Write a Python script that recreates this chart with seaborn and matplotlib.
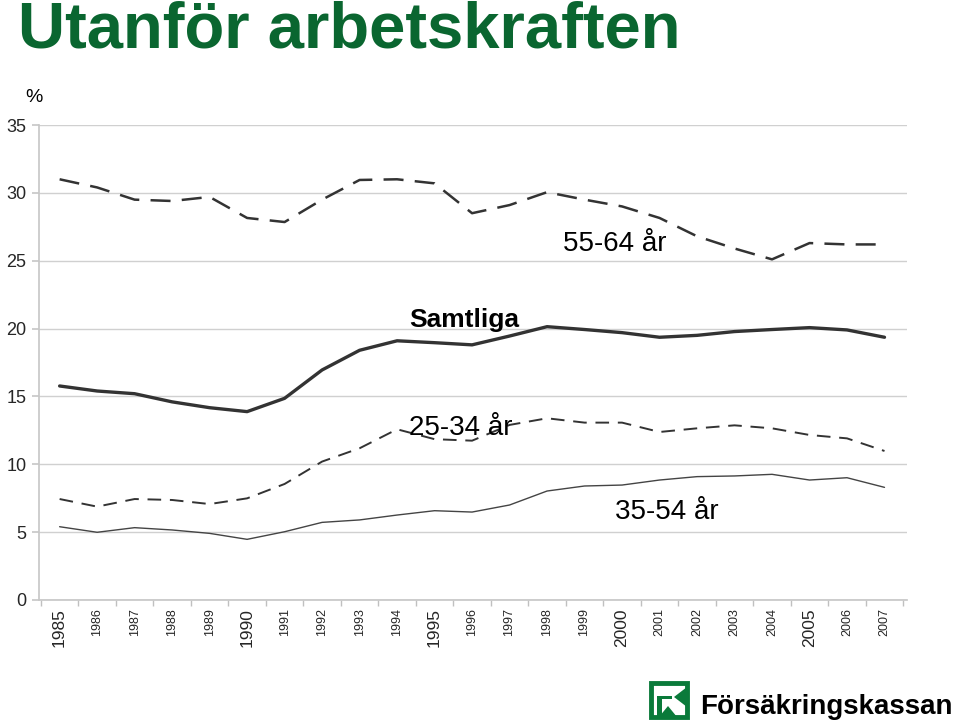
import matplotlib
matplotlib.use("Agg")
import matplotlib.pyplot as plt
import matplotlib.patches as mpatches
import seaborn as sns
import pandas as pd

years = list(range(1985, 2008))
age_55_64 = [31.0, 30.4, 29.5, 29.4, 29.7, 28.15, 27.85, 29.5, 30.95, 31.0, 30.7, 28.5,
             29.1, 30.05, 29.5, 29.0, 28.15, 26.8, 25.9, 25.1, 26.3, 26.2, 26.2]
samtliga = [15.77, 15.4, 15.2, 14.6, 14.17, 13.88, 14.86, 16.95, 18.4, 19.1, 18.96, 18.8,
            19.45, 20.14, 19.93, 19.7, 19.36, 19.5, 19.78, 19.93, 20.07, 19.9, 19.36]
age_25_34 = [7.44, 6.88, 7.44, 7.37, 7.07, 7.49, 8.55, 10.2, 11.18, 12.58, 11.85, 11.74,
             12.9, 13.39, 13.07, 13.07, 12.38, 12.65, 12.87, 12.65, 12.16, 11.91, 10.98]
age_35_54 = [5.4, 4.99, 5.33, 5.16, 4.91, 4.47, 5.03, 5.72, 5.9, 6.26, 6.58, 6.48,
             7.0, 8.03, 8.4, 8.47, 8.84, 9.09, 9.14, 9.26, 8.84, 9.01, 8.3]
big_years = [1985, 1990, 1995, 2000, 2005]
y_ticks = [0, 5, 10, 15, 20, 25, 30, 35]

sns.set_theme(style="white")
plt.rcParams['font.family'] = ['Liberation Sans', 'DejaVu Sans']

W, H = 960, 727
fig = plt.figure(figsize=(9.6, 7.27), dpi=100)
ax = fig.add_axes([39/W, 1-600/H, (907-39)/W, (600-125)/H])

line_col = "#333333"
sns.lineplot(x=years, y=age_55_64, ax=ax, color=line_col, linewidth=1.8)
ax.lines[-1].set_dashes([8, 4.5])
sns.lineplot(x=years, y=samtliga, ax=ax, color=line_col, linewidth=2.4)
sns.lineplot(x=years, y=age_25_34, ax=ax, color=line_col, linewidth=1.4)
ax.lines[-1].set_dashes([7, 4.5])
sns.lineplot(x=years, y=age_35_54, ax=ax, color="#444444", linewidth=1.0)

ax.set_xlim(1984.45, 2007.6)
ax.set_ylim(0, 35)
ax.set_yticks(y_ticks)
ax.set_yticklabels([str(v) for v in y_ticks], fontsize=13)
ax.yaxis.grid(True, color="#d0d0d0", linewidth=1.0)
ax.xaxis.grid(False)
ax.set_axisbelow(True)

ax.set_xticks(years)
ax.set_xticklabels([str(y) for y in years], rotation=90)
for lbl, y in zip(ax.get_xticklabels(), years):
    lbl.set_fontsize(12.5 if y in big_years else 9)
ax.set_xticks([y - 0.5 for y in years] + [2007.5], minor=True)
ax.tick_params(axis='x', which='major', length=0, pad=6)
ax.tick_params(axis='x', which='minor', length=4, color="#c0c0c0", direction='out', bottom=True)
ax.tick_params(axis='y', length=5, color="#c8c8c8", left=True, pad=4)

for side in ["top", "right"]:
    ax.spines[side].set_visible(False)
ax.spines["left"].set_color("#c8c8c8")
ax.spines["bottom"].set_color("#c8c8c8")

ax.set_xlabel("")
ax.set_ylabel("")

# Labels
ax.text(1999.8, 26.2, "55-64 år", fontsize=20, ha="center", va="center", color="black")
ax.text(1995.8, 20.6, "Samtliga", fontsize=19, fontweight="bold", ha="center", va="center", color="black")
ax.text(1995.7, 12.7, "25-34 år", fontsize=20, ha="center", va="center", color="black")
ax.text(2001.2, 6.5, "35-54 år", fontsize=20, ha="center", va="center", color="black")

# Title
fig.text(18/W, 1-30/H, "Utanför arbetskraften", fontsize=47, fontweight="bold",
         color="#0a6630", ha="left", va="center",
         family=['Liberation Sans Narrow', 'Liberation Sans', 'DejaVu Sans'])
fig.text(25/W, 1-98/H, "%", fontsize=14, ha="left", va="center", color="black")

# Logo
def fx(px): return px / W
def fy(py): return 1 - py / H
green = "#0a7a3a"
sq = mpatches.Rectangle((fx(651), fy(717)), 36/W, 34/H, transform=fig.transFigure,
                        facecolor="white", edgecolor=green, linewidth=3.5)
fig.patches.append(sq)
shapes = [
    mpatches.Rectangle((fx(657), fy(717)), 5/W, 21/H),
    mpatches.Rectangle((fx(657), fy(699)), 15/W, 3/H),
    mpatches.Polygon([(fx(687), fy(687)), (fx(674), fy(697)), (fx(687), fy(707))], closed=True),
    mpatches.Polygon([(fx(659), fy(717)), (fx(668), fy(706)), (fx(677), fy(717))], closed=True),
]
for p in shapes:
    p.set_transform(fig.transFigure)
    p.set_facecolor(green)
    p.set_edgecolor("none")
    fig.patches.append(p)
fig.text(fx(700), fy(707), "Försäkringskassan", fontsize=20, fontweight="bold",
         color="black", ha="left", va="center")

fig.savefig("out.png", dpi=100)
